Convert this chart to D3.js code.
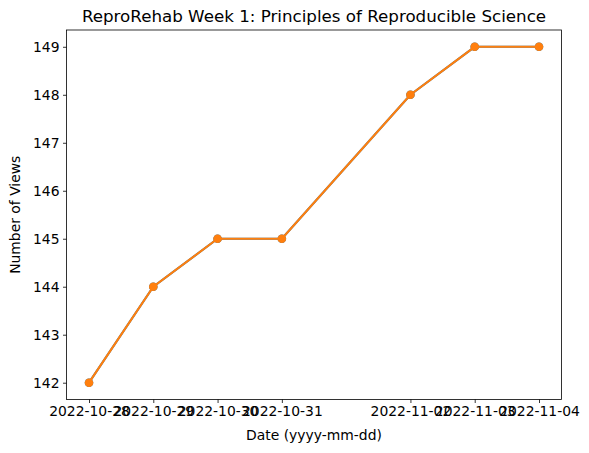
<!DOCTYPE html>
<html>
<head>
<meta charset="utf-8">
<script src="https://cdn.jsdelivr.net/npm/d3@7"></script>
<style>
  body { margin: 0; background: #fff; }
  text { font-family: "DejaVu Sans", sans-serif; fill: #000; }
</style>
</head>
<body>
<script>
// data
var dates = ["2022-10-28", "2022-10-29", "2022-10-30", "2022-10-31", "2022-11-02", "2022-11-03", "2022-11-04"];
var views = [142, 144, 145, 145, 148, 149, 149];
var yTicks = [142, 143, 144, 145, 146, 147, 148, 149];

var width = 589, height = 453;
var margin = {left: 66.5, right: 27.5, top: 30, bottom: 53.5};

var parse = d3.utcParse("%Y-%m-%d");
var pts = dates.map(function(d, i) { return {date: parse(d), v: views[i], label: d}; });

var svg = d3.select("body").append("svg")
    .attr("width", width)
    .attr("height", height);

// matplotlib-like 5% padding
var xMin = pts[0].date, xMax = pts[pts.length - 1].date;
var span = xMax - xMin;
var x = d3.scaleUtc()
    .domain([new Date(+xMin - span * 0.05), new Date(+xMax + span * 0.05)])
    .range([margin.left, width - margin.right]);

var yLo = d3.min(views), yHi = d3.max(views), ySpan = yHi - yLo;
var y = d3.scaleLinear()
    .domain([yLo - ySpan * 0.05, yHi + ySpan * 0.05])
    .range([height - margin.bottom, margin.top]);

// axes
var xAxis = d3.axisBottom(x)
    .tickValues(pts.map(function(p) { return p.date; }))
    .tickFormat(d3.utcFormat("%Y-%m-%d"))
    .tickSizeOuter(0).tickSize(3.5).tickPadding(3.5);
var yAxis = d3.axisLeft(y)
    .tickValues(yTicks)
    .tickFormat(d3.format("d"))
    .tickSizeOuter(0).tickSize(3.5).tickPadding(3.5);

var gx = svg.append("g")
    .attr("transform", "translate(0," + (height - margin.bottom) + ")")
    .call(xAxis);
var gy = svg.append("g")
    .attr("transform", "translate(" + margin.left + ",0)")
    .call(yAxis);

[gx, gy].forEach(function(g) {
  g.select(".domain").remove();
  g.selectAll(".tick line").attr("stroke", "#000").attr("stroke-width", 0.8);
  g.selectAll(".tick text").style("font-size", "13.9px").attr("font-family", null);
});

// frame
svg.append("rect")
    .attr("x", margin.left)
    .attr("y", margin.top)
    .attr("width", width - margin.left - margin.right)
    .attr("height", height - margin.top - margin.bottom)
    .attr("fill", "none")
    .attr("stroke", "#000")
    .attr("stroke-width", 0.8);

// lines (blue drawn first, orange over it)
var line = d3.line()
    .x(function(d) { return x(d.date); })
    .y(function(d) { return y(d.v); });

["#1f77b4", "#ff7f0e"].forEach(function(c) {
  svg.append("path")
      .datum(pts)
      .attr("d", line)
      .attr("fill", "none")
      .attr("stroke", c)
      .attr("stroke-width", 2.1);
  svg.selectAll(".dot" + c.slice(1))
      .data(pts)
      .enter()
      .append("circle")
          .attr("cx", function(d) { return x(d.date); })
          .attr("cy", function(d) { return y(d.v); })
          .attr("r", 4.3)
          .attr("fill", c);
});

// titles
svg.append("text")
    .attr("x", (margin.left + width - margin.right) / 2)
    .attr("y", 22)
    .attr("text-anchor", "middle")
    .style("font-size", "16.7px")
    .text("ReproRehab Week 1: Principles of Reproducible Science");

svg.append("text")
    .attr("x", (margin.left + width - margin.right) / 2)
    .attr("y", 440)
    .attr("text-anchor", "middle")
    .style("font-size", "13.9px")
    .text("Date (yyyy-mm-dd)");

svg.append("text")
    .attr("transform", "translate(20," + ((margin.top + height - margin.bottom) / 2) + ") rotate(-90)")
    .attr("text-anchor", "middle")
    .style("font-size", "13.9px")
    .text("Number of Views");
</script>
</body>
</html>
